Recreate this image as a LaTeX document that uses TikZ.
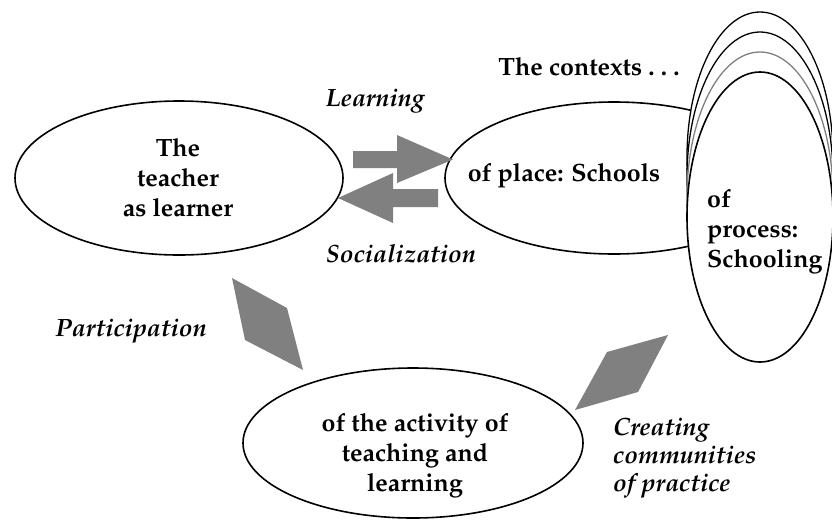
\documentclass[tikz,border=0pt]{standalone}
\usepackage[T1]{fontenc}
\usepackage{mathpazo}
\usetikzlibrary{shapes.geometric}
\definecolor{blockgray}{RGB}{128,128,128}
\begin{document}
\begin{tikzpicture}[x=1pt,y=-1pt,
  ell/.style={ellipse, draw, line width=1.6pt, fill=white, inner sep=0pt},
  ctxell/.style={ell, line width=1.3pt, minimum width=146pt, minimum height=290pt},
  maintext/.style={font=\fontsize{25}{30}\selectfont\bfseries, align=center, inner sep=0pt},
  labtext/.style={font=\fontsize{25}{28}\selectfont\bfseries\itshape, inner sep=0pt},
  blk/.style={fill=blockgray}
]
\useasboundingbox (0,0) rectangle (832,520);

% ellipses
\node[ell, minimum width=328pt, minimum height=154pt] (teacher) at (179,178) {};
\node[ell, minimum width=338pt, minimum height=152pt] (place) at (614,178) {};
\node[ctxell] (ctx3) at (760,157) {};
\node[ctxell] (ctx2) at (760,177) {};
\node[ctxell, draw=gray] (ctx1) at (760,197) {};
\node[ell, minimum width=146pt, minimum height=290pt] (process) at (760,217) {};
\node[ell, minimum width=340pt, minimum height=150pt] (activity) at (413,443) {};

% texts
\node[maintext] (tteacher) at (178,178) {The\\teacher\\as learner};
\node[maintext] (tplace) at (564,176) {of place: Schools};
\node[maintext, align=left, anchor=west] (tprocess) at (707,232) {of\\process:\\Schooling};
\node[maintext] (tactivity) at (415,456) {of the activity of\\teaching and\\learning};
\node[maintext] (tctx) at (589,67) {The contexts .\ .\ .};

% labels
\node[labtext] (learn) at (375,101) {Learning};
\node[labtext] (soc) at (401,254) {Socialization};
\node[labtext] (part) at (131,331) {Participation};
\node[labtext, align=left, anchor=west] (create) at (613,458) {Creating\\communities\\of practice};

% block arrows
\fill[blk] (353,151) -- (397,151) -- (397,135) -- (453,159.5) -- (397,183) -- (397,168) -- (353,168) -- cycle;
\fill[blk] (438,189) -- (393,189) -- (393,173) -- (338,198) -- (393,223) -- (393,207) -- (438,207) -- cycle;

% diamonds
\fill[blk] (232,278) -- (287,308) -- (303,370) -- (245,340) -- cycle;
\fill[blk] (668,335) -- (607,352) -- (575,410) -- (638,392) -- cycle;
\end{tikzpicture}
\end{document}
